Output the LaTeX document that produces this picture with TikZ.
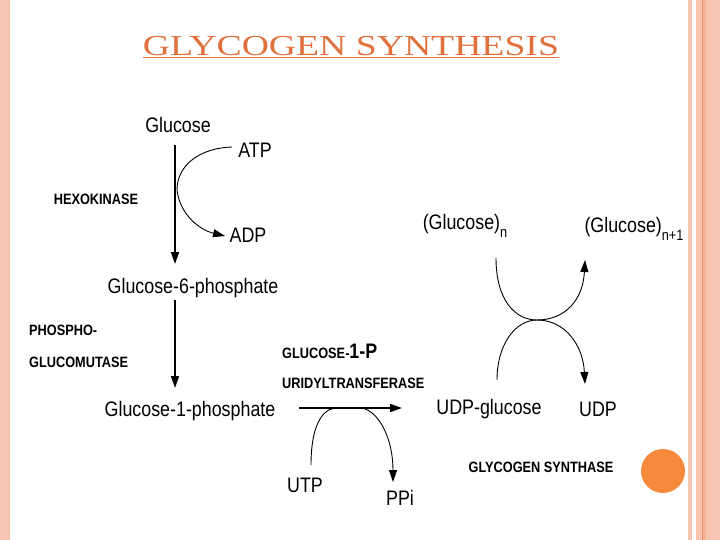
\documentclass[tikz,border=0pt]{standalone}
\usepackage{fontspec}
\setmainfont{Liberation Serif}
\newfontfamily\lab[FakeStretch=0.85]{Liberation Sans}
\usetikzlibrary{arrows.meta}
\definecolor{salm}{HTML}{F8C6B0}
\definecolor{salm2}{HTML}{F4B49A}
\definecolor{tit}{HTML}{E0703C}
\definecolor{dot}{HTML}{F58A3C}
\newcommand{\sbs}[1]{\raisebox{-0.35em}{\fontsize{15}{15}\selectfont #1}}
\begin{document}
\begin{tikzpicture}[x=1pt,y=-1pt,
  t/.style={font=\lab\fontsize{21}{21}\selectfont,inner sep=0},
  e/.style={font=\lab\bfseries\fontsize{15}{15}\selectfont,inner sep=0},
  ar/.style={-{Triangle[length=12pt,width=8pt]},line width=1.6pt},
  cv/.style={-{Triangle[length=12pt,width=8pt]},line width=0.9pt}]
\useasboundingbox (0,0) rectangle (720,540);
\fill[salm] (0,0) rectangle (10,540);
\fill[salm] (688,0) rectangle (692,540);
\fill[salm] (696,0) rectangle (720,540);
\fill[salm2] (702,0) rectangle (706,540);
\draw[tit!80,line width=0.6pt] (702.5,0) -- (702.5,540);
\node[font=\fontsize{29}{29}\selectfont,text=tit,inner sep=0,xscale=1.3] (title) at (351,47) {\underline{GLYCOGEN SYNTHESIS}};
\node[t] (glc) at (178,125) {Glucose};
\node[t] (atp) at (255,150) {ATP};
\node[e] (hk) at (96,199) {HEXOKINASE};
\node[t] (adp) at (248,235) {ADP};
\node[t] (g6p) at (193,288) {Glucose-6-phosphate};
\node[e,anchor=west] (pg1) at (29,330) {PHOSPHO-};
\node[e,anchor=west] (pg2) at (29,362) {GLUCOMUTASE};
\node[t] (g1p) at (190,411) {Glucose-1-phosphate};
\node[e,anchor=west] (ut1) at (282,351) {GLUCOSE-\fontsize{21}{21}\selectfont1-P};
\node[e,anchor=west] (ut2) at (282,383) {URIDYLTRANSFERASE};
\node[t] (utp) at (305,485) {UTP};
\node[t] (ppi) at (400,498) {PPi};
\node[t] (udpg) at (489,409) {UDP-glucose};
\node[t] (udp) at (598,409) {UDP};
\node[t] (gn) at (465,226) {(Glucose)\sbs{n}};
\node[t] (gn1) at (634,229) {(Glucose)\sbs{n+1}};
\node[e] (gs) at (541,467) {GLYCOGEN SYNTHASE};
\fill[dot] (663,471) circle (22);
\coordinate (a1) at (175,145); \coordinate (a2) at (175,264);
\coordinate (b1) at (175,300); \coordinate (b2) at (175,388);
\draw[ar] (a1) -- (a2);
\draw[ar] (b1) -- (b2);
\draw[cv] (232,147) .. controls (200,148) and (177,165) .. (177,190) .. controls (180,215) and (200,230) .. (225,236);
\coordinate (h1) at (299,408); \coordinate (h2) at (402,408);
\draw[ar] (h1) -- (h2);
\draw[line width=0.9pt] (311,465) .. controls (311,430) and (320,410) .. (335,408);
\draw[cv] (362,408) .. controls (380,412) and (393,440) .. (393,482);
\draw[cv] (496,258) .. controls (496,300) and (515,320) .. (537,320) .. controls (565,320) and (583,300) .. (585,260);
\draw[cv] (497,380) .. controls (497,345) and (515,320) .. (537,320) .. controls (565,320) and (583,345) .. (585,384);
\end{tikzpicture}
\end{document}
